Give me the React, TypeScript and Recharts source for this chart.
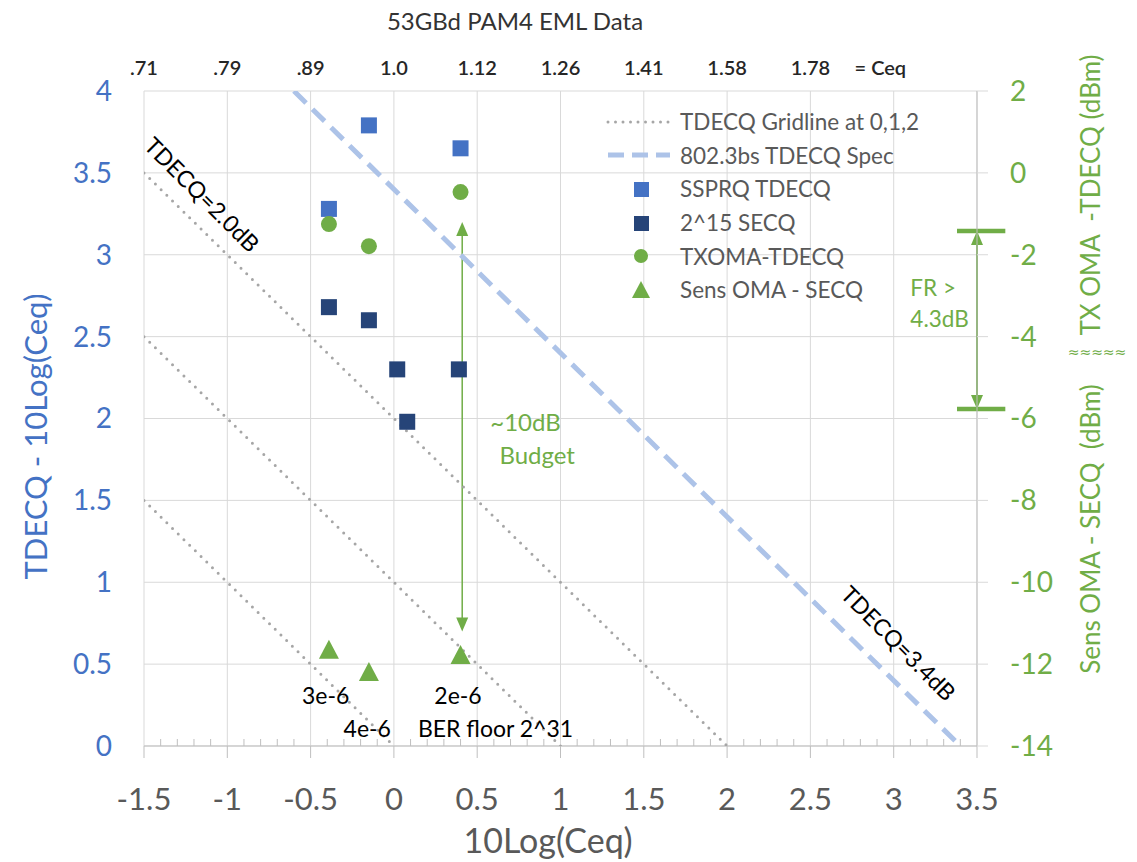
import React from "react";
import {
  ScatterChart,
  Scatter,
  XAxis,
  YAxis,
  CartesianGrid,
  ReferenceLine,
  Legend,
} from "recharts";

// axes
const xTicks = [-1.5, -1, -0.5, 0, 0.5, 1, 1.5, 2, 2.5, 3, 3.5];
const ceqTicks = [-1.5, -1, -0.5, 0, 0.5, 1, 1.5, 2, 2.5, 2.92];
const ceqLabels = [".71", ".79", ".89", "1.0", "1.12", "1.26", "1.41", "1.58", "1.78", "= Ceq"];
const leftTicks = [0, 0.5, 1, 1.5, 2, 2.5, 3, 3.5, 4];
const rightTicks = [-14, -12, -10, -8, -6, -4, -2, 0, 2];
const minorTicks = [
  -1.4, -1.3, -1.2, -1.1, -0.9, -0.8, -0.7, -0.6, -0.4, -0.3, -0.2, -0.1,
  0.1, 0.2, 0.3, 0.4, 0.6, 0.7, 0.8, 0.9, 1.1, 1.2, 1.3, 1.4, 1.6, 1.7, 1.8, 1.9,
  2.1, 2.2, 2.3, 2.4, 2.6, 2.7, 2.8, 2.9, 3.1, 3.2, 3.3, 3.4,
].map((x) => ({ x, y: 0 }));

// series (left axis)
const ssprqTdecq = [
  { x: -0.39, y: 3.28 },
  { x: -0.15, y: 3.79 },
  { x: 0.4, y: 3.65 },
];
const secq215 = [
  { x: -0.39, y: 2.68 },
  { x: -0.15, y: 2.6 },
  { x: 0.02, y: 2.3 },
  { x: 0.08, y: 1.98 },
  { x: 0.39, y: 2.3 },
];
// series (right axis, dBm)
const txomaTdecq = [
  { x: -0.39, y: -1.25 },
  { x: -0.15, y: -1.79 },
  { x: 0.4, y: -0.47 },
];
const sensOmaSecq = [
  { x: -0.39, y: -11.65 },
  { x: -0.15, y: -12.19 },
  { x: 0.4, y: -11.78 },
];

// TDECQ = y + x lines
const gridline0 = [{ x: -1.5, y: 1.5 }, { x: 0, y: 0 }];
const gridline1 = [{ x: -1.5, y: 2.5 }, { x: 1, y: 0 }];
const gridline2 = [{ x: -1.5, y: 3.5 }, { x: 2, y: 0 }];
const specLine = [{ x: -0.6, y: 4 }, { x: 3.4, y: 0 }];

// annotations
const budgetArrow = [{ x: 0.41, y: 3.2 }, { x: 0.41, y: 0.7 }];
const frArrow = [{ x: 3.5, y: -1.42 }, { x: 3.5, y: -5.77 }];
const frBarTop = [{ x: 3.38, y: -1.42 }, { x: 3.67, y: -1.42 }];
const frBarBottom = [{ x: 3.38, y: -5.77 }, { x: 3.67, y: -5.77 }];

const berLabels = [
  { x: -0.41, y: 0.31, text: "3e-6" },
  { x: -0.16, y: 0.11, text: "4e-6" },
  { x: 0.385, y: 0.31, text: "2e-6" },
  { x: 0.61, y: 0.11, text: "BER floor 2^31" },
];
const lineLabels = [
  { x: -1.15, y: 3.37, text: "TDECQ=2.0dB" },
  { x: 3.03, y: 0.63, text: "TDECQ=3.4dB" },
];
const budgetLabels = [
  { x: 0.79, y: 1.98, text: "~10dB" },
  { x: 0.86, y: 1.78, text: "Budget" },
];
const frLabels = [
  { x: 3.1, y: 2.8, text: "FR >" },
  { x: 3.1, y: 2.61, text: "4.3dB" },
];

const legendNames = [
  "TDECQ Gridline at 0,1,2",
  "802.3bs TDECQ Spec",
  "SSPRQ TDECQ",
  "2^15 SECQ",
  "TXOMA-TDECQ",
  "Sens OMA - SECQ",
];

const BLUE = "#4472c4";
const NAVY = "#264478";
const GREEN = "#70ad47";
const SPEC = "#adc3e8";
const DOTS = "#a6a6a6";
const GRID = "#d9d9d9";
const AXIS = "#bfbfbf";
const FONT = "Lato, 'Open Sans', sans-serif";

const none = () => <g />;

const square = (color: string) => (p: any) => (
  <rect x={p.cx - 8} y={p.cy - 8} width={16} height={16} fill={color} />
);
const dot = (p: any) => <circle cx={p.cx} cy={p.cy} r={8} fill={GREEN} />;
const triangle = (p: any) => (
  <polygon
    points={`${p.cx},${p.cy - 10} ${p.cx - 10},${p.cy + 9} ${p.cx + 10},${p.cy + 9}`}
    fill={GREEN}
  />
);
const minorTick = (p: any) => (
  <line x1={p.cx} y1={p.cy} x2={p.cx} y2={p.cy - 7} stroke={AXIS} strokeWidth={1} />
);

const textShape =
  (color: string, size: number, anchor: string, angle = 0) =>
  (p: any) => (
    <text
      x={p.cx}
      y={p.cy}
      fill={color}
      fontSize={size}
      fontFamily={FONT}
      textAnchor={anchor}
      dominantBaseline="central"
      transform={angle ? `rotate(${angle} ${p.cx} ${p.cy})` : undefined}
    >
      {p.payload.text}
    </text>
  );

// double headed arrow between the two segment ends
const doubleArrow = (width: number, head: number, headW: number) => (p: any) => {
  const { x1, y1, x2, y2 } = p;
  const len = Math.hypot(x2 - x1, y2 - y1) || 1;
  const ux = (x2 - x1) / len;
  const uy = (y2 - y1) / len;
  const nx = -uy;
  const ny = ux;
  const h = headW / 2;
  const headAt = (tx: number, ty: number, dir: number) =>
    `${tx},${ty} ${tx + dir * ux * head + nx * h},${ty + dir * uy * head + ny * h} ${
      tx + dir * ux * head - nx * h
    },${ty + dir * uy * head - ny * h}`;
  return (
    <g>
      <line
        x1={x1 + ux * head * 0.8}
        y1={y1 + uy * head * 0.8}
        x2={x2 - ux * head * 0.8}
        y2={y2 - uy * head * 0.8}
        stroke={GREEN}
        strokeWidth={width}
      />
      <polygon points={headAt(x1, y1, 1)} fill={GREEN} />
      <polygon points={headAt(x2, y2, -1)} fill={GREEN} />
    </g>
  );
};

const barShape = (p: any) => (
  <line x1={p.x1} y1={p.y1} x2={p.x2} y2={p.y2} stroke={GREEN} strokeWidth={4.5} />
);

const legendSymbol = (i: number) => {
  if (i === 0)
    return (
      <line x1={8} y1={12} x2={70} y2={12} stroke={DOTS} strokeWidth={3}
        strokeDasharray="0 7.5" strokeLinecap="round" />
    );
  if (i === 1)
    return <line x1={8} y1={12} x2={70} y2={12} stroke={SPEC} strokeWidth={5} strokeDasharray="16 8" />;
  if (i === 2) return <rect x={34} y={5} width={15} height={15} fill={BLUE} />;
  if (i === 3) return <rect x={34} y={5} width={15} height={15} fill={NAVY} />;
  if (i === 4) return <circle cx={41} cy={12} r={7} fill={GREEN} />;
  return <polygon points="41,3 32,20 50,20" fill={GREEN} />;
};

const renderLegend = () => (
  <div style={{ fontFamily: FONT, fontSize: 22.5, color: "#595959" }}>
    {legendNames.map((name, i) => (
      <div key={name} style={{ display: "flex", alignItems: "center", height: 33.6 }}>
        <svg width={80} height={24}>{legendSymbol(i)}</svg>
        <span style={{ whiteSpace: "nowrap" }}>{name}</span>
      </div>
    ))}
  </div>
);

const leftTitle = (p: any) => {
  const { x, y, height } = p.viewBox;
  const cx = x + 35;
  const cy = y + height / 2 + 18;
  return (
    <text x={cx} y={cy} fill={BLUE} fontSize={31} fontFamily={FONT} textAnchor="middle"
      dominantBaseline="central" transform={`rotate(-90 ${cx} ${cy})`}>
      TDECQ - 10Log(Ceq)
    </text>
  );
};

const rightTitle = (p: any) => {
  const { x, y } = p.viewBox;
  const cx = x + 113;
  const tx = y + 104;
  const sy = y + 438;
  return (
    <g fill={GREEN} fontFamily={FONT}>
      <text x={cx} y={tx} fontSize={26} textAnchor="middle" dominantBaseline="central"
        transform={`rotate(-90 ${cx} ${tx})`}>
        {"TX OMA\u00a0\u00a0-TDECQ (dBm)"}
      </text>
      <text x={cx} y={sy} fontSize={26} textAnchor="middle" dominantBaseline="central"
        transform={`rotate(-90 ${cx} ${sy})`}>
        {"Sens OMA - SECQ\u00a0\u00a0(dBm)"}
      </text>
      <text x={cx + 7} y={y + 261} fontSize={14} fontFamily="'DejaVu Sans'" textAnchor="middle"
        dominantBaseline="central">
        ≈≈≈≈≈
      </text>
    </g>
  );
};

const bottomTitle = (p: any) => {
  const { x, y } = p.viewBox;
  return (
    <text x={x + 404} y={y + 93} fill="#595959" fontSize={34} fontFamily={FONT}
      textAnchor="middle" dominantBaseline="central">
      10Log(Ceq)
    </text>
  );
};

const topTitle = (p: any) => {
  const { x } = p.viewBox;
  return (
    <text x={x + 371} y={20} fill="#333333" fontSize={24} fontFamily={FONT}
      textAnchor="middle" dominantBaseline="central">
      53GBd PAM4 EML Data
    </text>
  );
};

export default function App() {
  return (
    <div style={{ position: "absolute", left: 0, top: 0, fontFamily: FONT, background: "#fff" }}>
      <ScatterChart width={1137} height={862} margin={{ top: 0, right: 0, bottom: 0, left: 0 }}>
        <CartesianGrid xAxisId="bottom" yAxisId="left" stroke={GRID} strokeWidth={1} />
        <XAxis
          xAxisId="bottom"
          type="number"
          dataKey="x"
          domain={[-1.5, 3.5]}
          ticks={xTicks}
          interval={0}
          allowDataOverflow
          height={116}
          tickSize={12}
          tickMargin={30}
          axisLine={{ stroke: AXIS }}
          tickLine={{ stroke: AXIS }}
          tick={{ fill: "#595959", fontSize: 31, fontFamily: FONT }}
          label={bottomTitle}
        />
        <XAxis
          xAxisId="top"
          orientation="top"
          type="number"
          dataKey="x"
          domain={[-1.5, 3.5]}
          ticks={ceqTicks}
          interval={0}
          allowDataOverflow
          height={91}
          tickSize={0}
          tickMargin={16}
          axisLine={false}
          tickLine={false}
          tickFormatter={(v: number) => ceqLabels[ceqTicks.indexOf(v)] ?? ""}
          tick={{ fill: "#262626", fontSize: 20, fontWeight: 600, fontFamily: FONT }}
          label={topTitle}
        />
        <YAxis
          yAxisId="left"
          type="number"
          dataKey="y"
          domain={[0, 4]}
          ticks={leftTicks}
          interval={0}
          allowDataOverflow
          width={144}
          tickSize={0}
          tickMargin={32}
          axisLine={false}
          tickLine={false}
          tick={{ fill: BLUE, fontSize: 28, fontFamily: FONT }}
          label={leftTitle}
        />
        <YAxis
          yAxisId="right"
          orientation="right"
          type="number"
          dataKey="y"
          domain={[-14, 2]}
          ticks={rightTicks}
          interval={0}
          allowDataOverflow
          width={160}
          tickSize={11}
          tickMargin={22}
          axisLine={{ stroke: AXIS }}
          tickLine={{ stroke: GRID }}
          tick={{ fill: GREEN, fontSize: 28, fontFamily: FONT }}
          label={rightTitle}
        />

        <Scatter xAxisId="bottom" yAxisId="left" data={minorTicks} shape={minorTick} isAnimationActive={false} />

        {[gridline0, gridline1, gridline2].map((d, i) => (
          <Scatter
            key={i}
            xAxisId="bottom"
            yAxisId="left"
            data={d}
            shape={none}
            line={{ stroke: DOTS, strokeWidth: 3, strokeDasharray: "0 8", strokeLinecap: "round" }}
            isAnimationActive={false}
          />
        ))}
        <Scatter
          xAxisId="bottom"
          yAxisId="left"
          data={specLine}
          shape={none}
          line={{ stroke: SPEC, strokeWidth: 5, strokeDasharray: "17 9" }}
          isAnimationActive={false}
        />

        <Scatter xAxisId="bottom" yAxisId="left" data={ssprqTdecq} shape={square(BLUE)} isAnimationActive={false} />
        <Scatter xAxisId="bottom" yAxisId="left" data={secq215} shape={square(NAVY)} isAnimationActive={false} />
        <Scatter xAxisId="bottom" yAxisId="right" data={txomaTdecq} shape={dot} isAnimationActive={false} />
        <Scatter xAxisId="bottom" yAxisId="right" data={sensOmaSecq} shape={triangle} isAnimationActive={false} />

        <ReferenceLine xAxisId="bottom" yAxisId="left" segment={budgetArrow} ifOverflow="visible"
          shape={doubleArrow(1.5, 14, 12)} />
        <ReferenceLine xAxisId="bottom" yAxisId="right" segment={frArrow} ifOverflow="visible"
          shape={doubleArrow(2, 14, 12)} />
        <ReferenceLine xAxisId="bottom" yAxisId="right" segment={frBarTop} ifOverflow="visible" shape={barShape} />
        <ReferenceLine xAxisId="bottom" yAxisId="right" segment={frBarBottom} ifOverflow="visible" shape={barShape} />

        <Scatter xAxisId="bottom" yAxisId="left" data={berLabels} shape={textShape("#000", 23, "middle")} isAnimationActive={false} />
        <Scatter xAxisId="bottom" yAxisId="left" data={lineLabels} shape={textShape("#000", 23, "middle", 45)} isAnimationActive={false} />
        <Scatter xAxisId="bottom" yAxisId="left" data={budgetLabels} shape={textShape(GREEN, 24, "middle")} isAnimationActive={false} />
        <Scatter xAxisId="bottom" yAxisId="left" data={frLabels} shape={textShape(GREEN, 22.5, "start")} isAnimationActive={false} />

        <Legend
          layout="vertical"
          align="center"
          verticalAlign="middle"
          content={renderLegend}
          wrapperStyle={{ left: 600, top: 105, width: 360 }}
        />
      </ScatterChart>
    </div>
  );
}
